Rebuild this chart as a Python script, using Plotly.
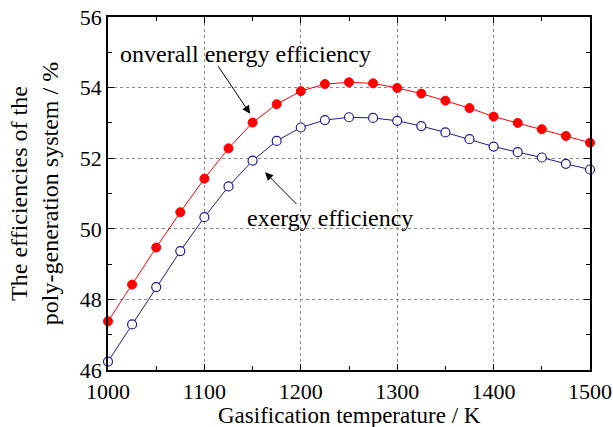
import plotly.graph_objects as go

# Gasification temperature (K) and efficiencies (%)
temperature = [1000, 1025, 1050, 1075, 1100, 1125, 1150, 1175, 1200, 1225, 1250,
               1275, 1300, 1325, 1350, 1375, 1400, 1425, 1450, 1475, 1500]
energy_eff = [47.38, 48.42, 49.47, 50.47, 51.42, 52.28, 53.01, 53.53, 53.90, 54.10, 54.15,
              54.12, 53.99, 53.83, 53.63, 53.42, 53.18, 53.00, 52.82, 52.63, 52.44]
exergy_eff = [46.24, 47.29, 48.35, 49.37, 50.33, 51.20, 51.93, 52.49, 52.87, 53.08, 53.16,
              53.14, 53.06, 52.91, 52.73, 52.54, 52.33, 52.17, 52.02, 51.84, 51.68]

x_ticks = [1000, 1100, 1200, 1300, 1400, 1500]
y_ticks = [46, 48, 50, 52, 54, 56]

FONT = "Liberation Serif, Times New Roman, serif"

fig = go.Figure()
fig.add_trace(go.Scatter(
    x=temperature, y=energy_eff, mode="lines+markers",
    line=dict(color="#ff0000", width=1),
    marker=dict(symbol="circle", size=9, color="#ff0000", line=dict(color="#ff0000", width=1)),
    cliponaxis=False, name="onverall energy efficiency",
))
fig.add_trace(go.Scatter(
    x=temperature, y=exergy_eff, mode="lines+markers",
    line=dict(color="#1c1c8e", width=1),
    marker=dict(symbol="circle", size=9, color="white", line=dict(color="#1c1c8e", width=1.2)),
    cliponaxis=False, name="exergy efficiency",
))

axis_common = dict(
    showline=True, linecolor="black", linewidth=1.5, mirror="ticks",
    ticks="inside", ticklen=6, tickwidth=1.2, tickcolor="black",
    showgrid=True, gridcolor="#888888", griddash="dot", gridwidth=1,
    zeroline=False, automargin=False,
    tickfont=dict(family=FONT, size=22, color="black"),
    minor=dict(ticks="inside", ticklen=4, tickwidth=1.2, tickcolor="black", showgrid=False),
)

fig.update_xaxes(range=[1000, 1500], tickvals=x_ticks, minor_dtick=50, ticklabelstandoff=1,
                 **axis_common)
fig.update_yaxes(range=[46, 56], tickvals=y_ticks, minor_dtick=1,
                 title=dict(text="The efficiencies of the<br>poly-generation system / %", standoff=14,
                            font=dict(family=FONT, size=24, color="black")),
                 **axis_common)

# x-axis title placed just below the tick labels
fig.add_annotation(x=0.5, y=-0.13, xref="paper", yref="paper", showarrow=False,
                   xanchor="center", yanchor="middle",
                   text="Gasification temperature / K",
                   font=dict(family=FONT, size=23, color="black"))

# arrows pointing from the labels to the curves
fig.add_annotation(x=1147.4, y=53.26, ax=1113.2, ay=54.65, axref="x", ayref="y",
                   xref="x", yref="y", showarrow=True, arrowhead=2, arrowsize=1.6,
                   arrowwidth=1, arrowcolor="black", text="")
fig.add_annotation(x=1162.9, y=51.6, ax=1197.1, ay=50.66, axref="x", ayref="y",
                   xref="x", yref="y", showarrow=True, arrowhead=2, arrowsize=1.6,
                   arrowwidth=1, arrowcolor="black", text="")

fig.add_annotation(x=1143, y=54.95, xref="x", yref="y", showarrow=False,
                   text="onverall energy efficiency",
                   font=dict(family=FONT, size=24, color="black"))
fig.add_annotation(x=1230, y=50.3, xref="x", yref="y", showarrow=False,
                   text="exergy efficiency",
                   font=dict(family=FONT, size=24, color="black"))

fig.update_layout(
    width=613, height=427,
    margin=dict(l=108, r=23, t=17, b=57),
    paper_bgcolor="white", plot_bgcolor="white",
    showlegend=False,
)

fig.write_html("out.html")
